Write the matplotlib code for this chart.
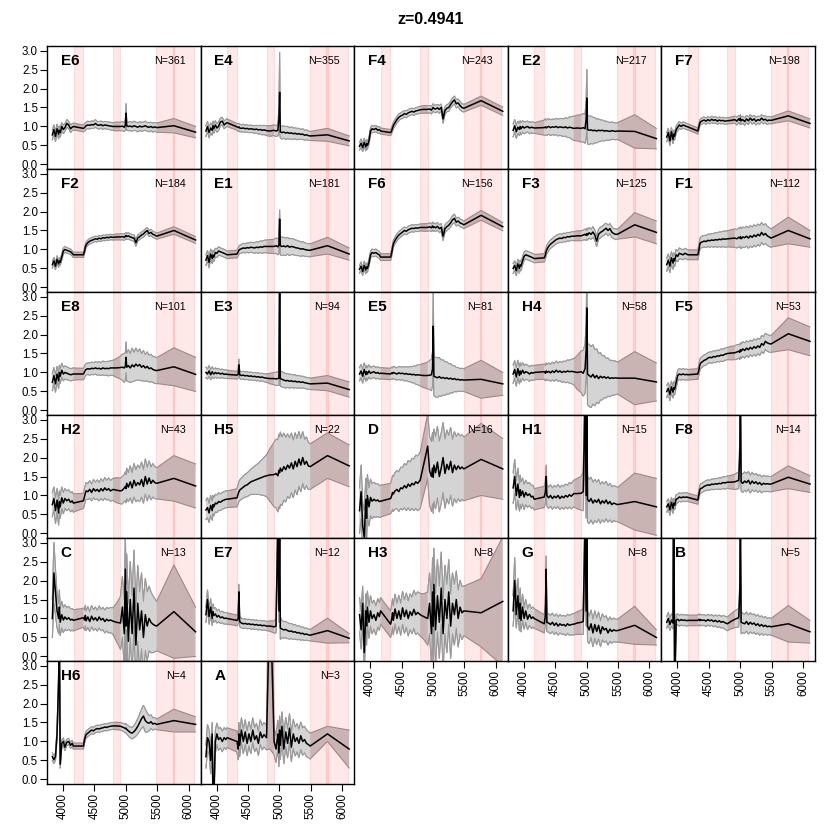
import numpy as np
import matplotlib
matplotlib.use("Agg")
import matplotlib.pyplot as plt

plt.rcParams['font.family'] = ['Liberation Sans', 'DejaVu Sans']

# wavelength grid (Angstrom). the masked bands only hold the join points
wave_blue = [3830, 3855, 3880, 3905, 3930, 3942, 3955, 3980, 4005, 4030, 4060, 4090, 4120, 4145, 4165]
wave_mid = [4325, 4343, 4355, 4367, 4395, 4425, 4455, 4485, 4515, 4545, 4575, 4605, 4635, 4665, 4695,
            4725, 4755, 4795]
wave_red = [4850, 4915, 4945, 4975, 4992, 5003, 5014, 5040, 5070, 5100, 5130, 5160, 5190, 5220, 5250,
            5280, 5310, 5340, 5370, 5400, 5430, 5460, 5490]
wave_far = [5765, 6110]

# masked (shaded) wavelength bands
bands = [(4167, 4322), (4796, 4912), (5488, 5767), (5743, 6085)]

names = ["E6", "E4", "F4", "E2", "F7",
         "F2", "E1", "F6", "F3", "F1",
         "E8", "E3", "E5", "H4", "F5",
         "H2", "H5", "D", "H1", "F8",
         "C", "E7", "H3", "G", "B",
         "H6", "A"]
n_spec = [361, 355, 243, 217, 198, 184, 181, 156, 125, 112, 101, 94, 81, 58, 53,
          43, 22, 16, 15, 14, 13, 12, 8, 8, 5, 4, 3]

# normalised flux and 1-sigma spread, both x100
flux_E6 = [78, 92, 74, 94, 80, 90, 84, 100, 92, 97, 108, 104, 94, 98, 100,
           95, 97, 100, 102, 104, 103, 105, 104, 108, 104, 103, 105, 102, 104, 103, 102, 101, 100,
           100, 100, 101, 98, 104, 135, 102, 100, 101, 99, 102, 100, 98, 101, 99, 100, 102, 99, 98, 100, 97, 99, 97,
           102, 85]
err_E6 = [13, 12, 13, 12, 12, 11, 12, 10, 11, 10, 10, 9, 10, 9, 9,
          9, 9, 10, 9, 10, 9, 10, 9, 10, 9, 10, 9, 10, 9, 10, 9, 10, 10,
          12, 11, 12, 11, 13, 25, 12, 11, 12, 11, 12, 11, 12, 11, 12, 11, 12, 11, 12, 11, 12, 11, 12,
          19, 15]

flux_E4 = [88, 100, 84, 96, 90, 102, 94, 104, 96, 100, 112, 114, 104, 108, 110,
           99, 97, 99, 96, 95, 96, 94, 95, 93, 94, 93, 92, 93, 91, 92, 90, 91, 89,
           88, 90, 88, 90, 120, 190, 86, 84, 85, 83, 84, 82, 83, 81, 82, 80, 81, 79, 80, 77, 78, 76, 75,
           78, 62]
err_E4 = [14, 13, 14, 13, 13, 12, 12, 11, 11, 11, 10, 10, 10, 10, 10,
          9, 10, 9, 10, 9, 10, 9, 10, 9, 10, 9, 10, 10, 11, 11, 12, 12, 13,
          14, 14, 14, 15, 30, 105, 16, 17, 16, 17, 16, 15, 16, 15, 14, 15, 14, 13, 14, 13, 13, 12, 12,
          17, 13]

flux_F4 = [48, 56, 44, 58, 46, 55, 50, 62, 88, 94, 92, 95, 90, 92, 88,
           84, 90, 96, 102, 110, 118, 124, 128, 130, 134, 132, 136, 138, 140, 138, 141, 142, 144,
           145, 145, 146, 143, 148, 150, 147, 146, 149, 145, 150, 120, 142, 148, 150, 158, 165, 170, 160, 162, 155, 150, 148,
           168, 140]
err_F4 = [10, 11, 10, 11, 10, 10, 10, 9, 9, 9, 8, 8, 8, 8, 8,
          8, 8, 9, 8, 9, 8, 9, 8, 9, 8, 9, 8, 9, 8, 9, 8, 9, 9,
          10, 10, 9, 10, 9, 10, 9, 10, 9, 10, 9, 11, 10, 9, 10, 9, 10, 10, 11, 10, 11, 10, 10,
          12, 11]

flux_E2 = [90, 102, 86, 98, 92, 100, 94, 100, 96, 98, 100, 96, 98, 97, 96,
           97, 99, 96, 98, 100, 97, 99, 98, 100, 97, 99, 98, 97, 99, 96, 98, 97, 95,
           96, 95, 97, 94, 120, 175, 92, 90, 91, 89, 90, 88, 90, 89, 90, 88, 89, 88, 87, 89, 88, 87, 88,
           87, 68]
err_E2 = [17, 16, 17, 16, 16, 15, 16, 15, 15, 15, 14, 15, 14, 15, 14,
          20, 21, 20, 21, 20, 21, 20, 21, 21, 22, 22, 23, 23, 24, 25, 27, 29, 32,
          34, 36, 37, 38, 50, 75, 38, 37, 36, 35, 33, 31, 30, 28, 27, 26, 25, 24, 23, 23, 22, 22, 22,
          44, 27]

flux_F7 = [72, 84, 62, 86, 66, 80, 74, 92, 98, 104, 100, 104, 102, 100, 99,
           88, 100, 108, 112, 115, 117, 114, 118, 115, 119, 116, 118, 114, 117, 115, 116, 114, 115,
           116, 118, 114, 120, 116, 122, 115, 118, 113, 120, 115, 122, 116, 120, 114, 118, 116, 122, 117, 119, 115, 117, 116,
           128, 108]
err_F7 = [12, 11, 12, 11, 11, 10, 10, 9, 9, 9, 8, 8, 8, 8, 8,
          8, 8, 8, 8, 8, 8, 8, 8, 8, 8, 8, 8, 8, 8, 8, 8, 8, 8,
          9, 9, 10, 9, 10, 9, 10, 9, 10, 9, 10, 9, 10, 9, 10, 9, 10, 9, 10, 9, 10, 9, 9,
          13, 12]

flux_F2 = [60, 70, 56, 74, 62, 70, 66, 80, 96, 100, 98, 96, 94, 90, 86,
           86, 96, 106, 112, 118, 122, 124, 126, 128, 127, 130, 128, 131, 130, 132, 131, 133, 132,
           133, 133, 134, 132, 135, 137, 134, 136, 133, 131, 130, 118, 130, 134, 138, 141, 146, 150, 142, 145, 140, 138, 135,
           150, 125]
err_F2 = [9, 9, 9, 9, 9, 8, 8, 8, 8, 8, 7, 7, 7, 7, 7,
          7, 7, 7, 7, 7, 7, 7, 7, 7, 7, 7, 7, 7, 7, 7, 7, 7, 7,
          8, 8, 8, 8, 8, 8, 8, 8, 8, 8, 8, 9, 8, 8, 8, 8, 8, 8, 8, 8, 8, 8, 8,
          10, 9]

flux_E1 = [72, 84, 66, 88, 76, 86, 80, 92, 90, 96, 94, 92, 90, 88, 86,
           88, 94, 98, 100, 102, 104, 103, 105, 104, 106, 105, 104, 106, 105, 107, 106, 108, 108,
           108, 108, 110, 107, 112, 180, 110, 108, 109, 107, 110, 106, 108, 107, 105, 104, 103, 101, 102, 100, 99, 98, 98,
           110, 88]
err_E1 = [14, 13, 14, 13, 13, 12, 12, 11, 11, 11, 10, 10, 10, 10, 10,
          10, 10, 11, 11, 11, 12, 12, 12, 13, 13, 13, 14, 14, 15, 15, 16, 16, 17,
          18, 19, 20, 21, 22, 24, 24, 24, 23, 23, 22, 22, 21, 21, 20, 20, 19, 19, 18, 18, 17, 17, 17,
          22, 16]

flux_F6 = [48, 56, 42, 58, 46, 54, 50, 64, 86, 92, 90, 92, 88, 86, 80,
           80, 92, 104, 114, 124, 132, 138, 142, 146, 150, 148, 152, 154, 156, 155, 157, 156, 158,
           158, 158, 160, 157, 162, 158, 160, 157, 161, 155, 158, 135, 155, 160, 164, 170, 178, 182, 172, 175, 170, 168, 165,
           190, 160]
err_F6 = [10, 11, 10, 11, 10, 10, 10, 9, 9, 9, 9, 9, 9, 9, 9,
          9, 9, 9, 9, 9, 9, 9, 9, 9, 9, 9, 9, 9, 9, 9, 9, 9, 9,
          10, 10, 10, 10, 10, 10, 10, 10, 10, 10, 10, 11, 10, 10, 10, 10, 11, 11, 10, 10, 10, 10, 10,
          13, 11]

flux_F3 = [50, 58, 44, 62, 50, 60, 56, 70, 82, 86, 84, 82, 80, 78, 76,
           78, 86, 94, 100, 108, 114, 118, 122, 126, 128, 130, 129, 132, 131, 134, 133, 135, 135,
           136, 136, 138, 140, 137, 142, 138, 144, 140, 146, 138, 122, 140, 145, 148, 152, 156, 150, 155, 146, 142, 140, 140,
           165, 145]
err_F3 = [13, 12, 13, 12, 12, 12, 12, 11, 11, 11, 11, 11, 11, 11, 11,
          11, 11, 11, 11, 11, 11, 11, 11, 11, 11, 11, 11, 11, 11, 11, 11, 11, 12,
          13, 13, 13, 14, 13, 14, 13, 14, 13, 14, 13, 14, 13, 14, 13, 14, 13, 14, 13, 14, 13, 14, 13,
          32, 30]

flux_F1 = [60, 72, 56, 78, 64, 76, 70, 86, 82, 90, 88, 86, 90, 88, 86,
           86, 100, 112, 118, 120, 122, 121, 124, 123, 125, 124, 126, 125, 127, 126, 128, 127, 128,
           129, 130, 128, 132, 130, 134, 128, 133, 131, 135, 130, 136, 132, 138, 134, 140, 136, 145, 138, 142, 136, 133, 130,
           150, 128]
err_F1 = [17, 16, 17, 16, 16, 15, 15, 14, 14, 14, 13, 13, 13, 13, 13,
          13, 13, 14, 14, 15, 15, 16, 16, 17, 17, 18, 18, 19, 19, 20, 20, 21, 21,
          23, 24, 24, 25, 25, 25, 26, 26, 26, 26, 27, 27, 27, 27, 27, 27, 27, 26, 26, 26, 25, 25, 24,
          35, 22]

flux_E8 = [74, 92, 70, 96, 78, 100, 90, 106, 96, 100, 98, 96, 94, 95, 96,
           96, 102, 106, 108, 110, 109, 111, 110, 112, 110, 111, 109, 112, 110, 111, 110, 112, 112,
           112, 113, 114, 112, 116, 140, 114, 118, 112, 120, 115, 122, 117, 121, 114, 118, 112, 116, 110, 112, 108, 106, 105,
           115, 95]
err_E8 = [22, 21, 22, 20, 20, 19, 19, 18, 18, 17, 17, 16, 16, 16, 16,
          15, 15, 15, 15, 15, 16, 16, 16, 16, 17, 17, 17, 18, 18, 18, 19, 19, 20,
          25, 30, 34, 38, 36, 40, 36, 42, 38, 44, 38, 42, 37, 41, 36, 40, 35, 38, 35, 36, 34, 35, 34,
          50, 45]

flux_E3 = [100, 96, 104, 94, 102, 98, 96, 100, 97, 99, 96, 98, 95, 96, 95,
           93, 96, 120, 94, 92, 93, 91, 92, 90, 91, 89, 90, 88, 89, 87, 88, 86, 85,
           84, 84, 83, 84, 85, 350, 84, 82, 80, 78, 79, 77, 78, 76, 77, 75, 76, 74, 75, 73, 72, 71, 70,
           72, 55]
err_E3 = [14, 13, 14, 13, 13, 13, 12, 12, 12, 12, 11, 11, 11, 11, 11,
          10, 10, 15, 10, 10, 10, 10, 10, 10, 10, 10, 10, 10, 10, 10, 10, 10, 11,
          14, 16, 17, 18, 19, 150, 20, 20, 19, 19, 18, 18, 17, 17, 17, 16, 16, 16, 15, 15, 15, 15, 15,
          20, 20]

flux_E5 = [96, 104, 90, 108, 94, 102, 96, 104, 98, 100, 102, 98, 100, 97, 98,
           96, 99, 97, 100, 98, 96, 99, 97, 98, 96, 97, 95, 96, 94, 95, 93, 94, 93,
           92, 92, 93, 94, 110, 222, 90, 88, 86, 89, 85, 87, 84, 86, 83, 85, 82, 84, 81, 82, 80, 81, 80,
           82, 70]
err_E5 = [18, 17, 18, 17, 17, 16, 16, 16, 15, 15, 15, 15, 15, 15, 15,
          15, 15, 15, 16, 16, 16, 17, 17, 17, 18, 18, 19, 20, 21, 22, 24, 26, 28,
          32, 35, 38, 42, 45, 90, 50, 52, 52, 50, 48, 46, 44, 42, 40, 38, 36, 34, 32, 31, 30, 30, 30,
          50, 30]

flux_H4 = [96, 108, 88, 110, 92, 104, 96, 106, 98, 102, 100, 96, 100, 98, 100,
           102, 98, 104, 100, 103, 99, 104, 100, 106, 101, 104, 100, 103, 101, 104, 102, 103, 102,
           100, 102, 98, 110, 160, 270, 96, 92, 88, 95, 86, 92, 84, 90, 86, 89, 85, 88, 84, 86, 85, 86, 85,
           85, 75]
err_H4 = [24, 23, 24, 22, 22, 21, 21, 20, 20, 20, 19, 19, 19, 19, 19,
          20, 20, 21, 21, 22, 22, 23, 23, 24, 24, 25, 26, 27, 28, 29, 30, 32, 34,
          45, 55, 60, 65, 70, 100, 80, 82, 80, 78, 74, 70, 66, 62, 58, 55, 52, 50, 48, 46, 45, 44, 42,
          70, 50]

flux_F5 = [50, 58, 42, 62, 48, 60, 56, 74, 92, 96, 94, 96, 94, 95, 94,
           96, 108, 118, 124, 128, 132, 134, 138, 140, 139, 142, 141, 144, 143, 146, 145, 148, 150,
           151, 152, 154, 156, 153, 160, 156, 162, 158, 164, 160, 166, 162, 168, 164, 170, 166, 176, 172, 182, 178, 176, 175,
           202, 182]
err_F5 = [16, 15, 16, 15, 15, 15, 15, 14, 14, 14, 14, 14, 14, 14, 14,
          14, 14, 14, 14, 14, 14, 14, 14, 14, 15, 15, 15, 15, 15, 16, 16, 16, 16,
          18, 18, 19, 18, 19, 18, 19, 19, 20, 19, 20, 19, 20, 20, 21, 20, 21, 21, 22, 21, 22, 22, 22,
          42, 38]

flux_H2 = [76, 92, 60, 88, 54, 84, 70, 94, 80, 92, 86, 90, 82, 86, 80,
           86, 98, 106, 112, 110, 116, 108, 118, 112, 116, 110, 118, 112, 120, 114, 118, 112, 116,
           114, 112, 114, 120, 124, 118, 132, 122, 136, 120, 140, 126, 134, 128, 142, 124, 150, 130, 146, 132, 140, 134, 132,
           145, 125]
err_H2 = [32, 30, 34, 30, 32, 28, 30, 28, 28, 26, 26, 25, 25, 24, 24,
          20, 22, 20, 22, 21, 23, 22, 24, 23, 25, 24, 26, 25, 27, 26, 28, 27, 29,
          33, 34, 36, 35, 38, 37, 40, 38, 42, 40, 44, 42, 46, 44, 46, 44, 46, 44, 45, 43, 44, 42, 41,
          60, 58]

flux_H5 = [62, 68, 54, 74, 60, 76, 70, 80, 78, 84, 82, 86, 88, 90, 90,
           94, 104, 110, 114, 118, 122, 126, 128, 132, 136, 138, 140, 142, 144, 146, 148, 150, 152,
           154, 155, 158, 152, 166, 160, 172, 164, 176, 168, 180, 172, 186, 170, 190, 176, 196, 180, 200, 182, 190, 178, 176,
           205, 178]
err_H5 = [25, 26, 25, 26, 25, 24, 24, 23, 23, 23, 22, 22, 22, 22, 22,
          24, 25, 26, 27, 28, 29, 30, 31, 32, 33, 35, 37, 39, 41, 44, 47, 50, 55,
          70, 85, 90, 95, 95, 95, 95, 90, 88, 85, 82, 80, 78, 76, 75, 74, 72, 70, 68, 66, 64, 62, 60,
          60, 55]

flux_D = [60, 110, 20, -10, 90, 40, 100, 70, 95, 85, 90, 86, 88, 84, 85,
          92, 100, 108, 104, 112, 116, 110, 120, 118, 126, 120, 130, 124, 132, 128, 136, 132, 140,
          181, 230, 165, 150, 172, 148, 180, 160, 188, 150, 172, 200, 158, 182, 168, 190, 160, 180, 168, 178, 170, 175, 170,
          195, 170]
err_D = [60, 70, 60, 70, 55, 60, 55, 50, 48, 46, 45, 44, 43, 42, 42,
         40, 42, 44, 46, 48, 50, 52, 54, 56, 58, 60, 62, 64, 66, 68, 70, 72, 74,
         80, 85, 90, 92, 94, 95, 95, 95, 94, 93, 92, 92, 91, 90, 90, 89, 88, 88, 87, 86, 86, 85, 84,
         95, 80]

flux_H1 = [120, 150, 100, 130, 95, 115, 100, 112, 96, 108, 100, 104, 96, 98, 90,
           96, 110, 150, 100, 94, 100, 92, 98, 94, 100, 92, 98, 94, 100, 96, 102, 98, 105,
           105, 106, 110, 350, 100, 350, 90, 84, 92, 80, 88, 82, 90, 78, 86, 80, 88, 78, 84, 76, 80, 78, 76,
           84, 70]
err_H1 = [40, 45, 38, 42, 36, 38, 35, 34, 33, 32, 31, 30, 30, 29, 28,
          28, 28, 30, 28, 28, 28, 28, 28, 28, 29, 29, 29, 30, 30, 31, 32, 33, 35,
          40, 45, 50, 100, 60, 100, 60, 58, 56, 55, 54, 53, 52, 51, 50, 50, 49, 48, 48, 47, 46, 46, 45,
          75, 75]

flux_F8 = [70, 78, 62, 82, 66, 80, 74, 90, 92, 96, 94, 96, 95, 96, 95,
           88, 104, 114, 118, 120, 124, 126, 128, 127, 130, 129, 131, 130, 132, 131, 134, 133, 135,
           135, 136, 138, 140, 200, 350, 136, 132, 138, 134, 140, 130, 138, 132, 136, 130, 134, 128, 132, 130, 131, 130, 130,
           148, 130]
err_F8 = [14, 13, 14, 13, 13, 12, 12, 12, 11, 11, 11, 11, 11, 11, 11,
          11, 11, 12, 12, 12, 12, 13, 13, 13, 13, 14, 14, 14, 15, 15, 15, 16, 16,
          18, 20, 21, 22, 40, 100, 24, 24, 24, 24, 23, 23, 23, 22, 22, 22, 21, 21, 21, 20, 20, 20, 20,
          30, 22]

flux_C = [100, 220, 170, 120, 100, 130, 90, 110, 96, 104, 98, 102, 96, 98, 95,
          102, 96, 108, 94, 104, 92, 106, 96, 102, 94, 104, 96, 100, 92, 98, 94, 96, 93,
          90, 88, 130, 60, 230, 80, 170, 40, 150, 60, 180, 30, 140, 70, 120, 50, 110, 80, 100, 90, 85, 82, 80,
          118, 65]
err_C = [50, 80, 60, 45, 40, 45, 35, 35, 33, 32, 30, 30, 29, 28, 28,
         25, 26, 27, 26, 27, 26, 28, 27, 28, 27, 29, 28, 29, 30, 31, 32, 33, 35,
         50, 70, 80, 90, 95, 110, 100, 100, 100, 100, 100, 100, 100, 100, 100, 95, 95, 90, 85, 80, 75, 70, 65,
         123, 65]

flux_E7 = [110, 150, 105, 130, 100, 118, 108, 112, 104, 108, 102, 104, 100, 101, 100,
           95, 100, 170, 92, 88, 86, 87, 85, 86, 84, 85, 83, 84, 82, 83, 81, 82, 80,
           80, 78, 80, 350, 120, 350, 75, 72, 70, 71, 68, 66, 67, 64, 65, 62, 63, 60, 61, 58, 59, 57, 56,
           68, 48]
err_E7 = [20, 25, 20, 22, 18, 20, 18, 17, 16, 16, 15, 15, 15, 15, 15,
          14, 14, 20, 13, 13, 12, 12, 12, 12, 12, 12, 12, 12, 12, 12, 12, 12, 12,
          14, 16, 18, 60, 30, 100, 30, 22, 22, 21, 21, 20, 20, 19, 19, 18, 18, 17, 17, 16, 16, 15, 15,
          33, 12]

flux_H3 = [110, 70, 140, 10, 120, 80, 130, 90, 120, 100, 110, 95, 115, 105, 120,
           85, 100, 115, 95, 125, 100, 120, 98, 128, 105, 122, 100, 118, 108, 124, 110, 116, 110,
           105, 100, 140, 60, 170, 80, 190, 70, 160, 90, 180, 60, 150, 100, 170, 80, 140, 110, 150, 100, 130, 115, 120,
           115, 145]
err_H3 = [45, 50, 45, 55, 45, 50, 42, 42, 40, 40, 38, 38, 37, 36, 35,
          35, 36, 37, 38, 39, 40, 41, 42, 43, 44, 45, 46, 47, 48, 50, 52, 54, 56,
          60, 70, 80, 85, 90, 95, 95, 95, 95, 95, 95, 90, 90, 90, 85, 85, 80, 80, 75, 75, 70, 70, 65,
          90, 170]

flux_G = [120, 200, 110, 160, 100, 140, 95, 130, 100, 120, 98, 110, 100, 104, 100,
          86, 110, 230, 90, 88, 84, 90, 82, 88, 80, 86, 82, 84, 80, 86, 82, 84, 85,
          88, 90, 92, 350, 120, 350, 80, 70, 86, 62, 84, 66, 82, 60, 78, 70, 74, 62, 72, 66, 70, 68, 68,
          82, 50]
err_G = [40, 60, 35, 45, 32, 40, 30, 34, 28, 30, 27, 28, 26, 26, 26,
         24, 26, 35, 24, 24, 24, 24, 24, 24, 24, 24, 24, 24, 25, 25, 26, 27, 28,
         30, 32, 34, 80, 40, 120, 40, 36, 36, 36, 36, 35, 35, 34, 34, 33, 33, 32, 32, 31, 31, 30, 30,
         50, 20]

flux_B = [90, 100, 84, 96, 88, 600, -100, 95, 98, 94, 97, 95, 96, 94, 95,
          95, 98, 94, 97, 95, 96, 93, 97, 94, 96, 92, 95, 91, 94, 90, 92, 89, 86,
          92, 98, 100, 102, 160, 330, 90, 88, 86, 92, 84, 90, 85, 88, 82, 86, 80, 84, 79, 82, 78, 80, 78,
          86, 65]
err_B = [15, 16, 15, 16, 15, 20, 20, 15, 14, 14, 14, 14, 14, 14, 14,
         14, 14, 14, 14, 14, 14, 14, 14, 14, 14, 14, 14, 15, 15, 15, 16, 17, 18,
         20, 22, 23, 24, 30, 60, 30, 25, 25, 25, 25, 25, 25, 24, 24, 24, 24, 23, 23, 23, 22, 22, 22,
         48, 30]

flux_H6 = [60, 52, 60, 120, 260, 400, 40, 95, 100, 85, 98, 100, 90, 95, 88,
           88, 105, 112, 118, 122, 126, 130, 128, 132, 134, 133, 135, 136, 138, 137, 139, 140, 141,
           141, 140, 138, 136, 134, 135, 132, 128, 124, 122, 126, 132, 140, 150, 160, 167, 155, 150, 148, 152, 146, 148, 145,
           155, 145]
err_H6 = [10, 10, 10, 12, 20, 30, 10, 9, 9, 9, 8, 8, 8, 8, 8,
          8, 8, 9, 9, 9, 9, 9, 9, 9, 9, 9, 9, 9, 9, 9, 9, 9, 9,
          10, 10, 10, 11, 11, 12, 12, 13, 14, 15, 16, 18, 20, 22, 25, 28, 30, 25, 20, 18, 16, 15, 14,
          30, 20]

flux_A = [60, 110, 100, 50, 120, -60, -40, 100, 120, 105, 110, 100, 110, 105, 110,
          100, 80, 120, 90, 130, 100, 125, 95, 120, 100, 130, 105, 115, 95, 125, 110, 118, 110,
          500, 100, 80, 120, 70, 130, 90, 140, 80, 125, 95, 135, 85, 120, 100, 110, 95, 115, 100, 105, 95, 92, 88,
          120, 80]
err_A = [30, 35, 30, 35, 30, 40, 40, 30, 28, 28, 27, 27, 26, 26, 26,
         28, 28, 30, 30, 32, 32, 32, 32, 32, 32, 32, 32, 32, 32, 32, 32, 32, 32,
         420, 35, 35, 36, 36, 37, 37, 38, 38, 38, 38, 38, 38, 38, 38, 37, 37, 36, 36, 35, 35, 34, 34,
         20, 50]

fluxes = [flux_E6, flux_E4, flux_F4, flux_E2, flux_F7,
          flux_F2, flux_E1, flux_F6, flux_F3, flux_F1,
          flux_E8, flux_E3, flux_E5, flux_H4, flux_F5,
          flux_H2, flux_H5, flux_D, flux_H1, flux_F8,
          flux_C, flux_E7, flux_H3, flux_G, flux_B,
          flux_H6, flux_A]
errs = [err_E6, err_E4, err_F4, err_E2, err_F7,
        err_F2, err_E1, err_F6, err_F3, err_F1,
        err_E8, err_E3, err_E5, err_H4, err_F5,
        err_H2, err_H5, err_D, err_H1, err_F8,
        err_C, err_E7, err_H3, err_G, err_B,
        err_H6, err_A]

wave = np.array(wave_blue + wave_mid + wave_red + wave_far, dtype=float)
n1 = len(wave_blue)
n2 = n1 + len(wave_mid)
# grey (unmasked) stretches; 4850 sits inside a band so it is skipped
segments = [slice(0, n1), slice(n1, n2), slice(n2 + 1, n2 + len(wave_red))]

for nm, f, e in zip(names, fluxes, errs):
    if len(f) != len(wave) or len(e) != len(wave):
        raise ValueError(f"{nm}: {len(f)} / {len(e)} points, need {len(wave)}")

W, H = 830, 830
left, top = 47, 46
pw, ph = 153.6, 123.0

fig = plt.figure(figsize=(W / 100, H / 100), dpi=100)

for k, (name, n, f, e) in enumerate(zip(names, n_spec, fluxes, errs)):
    row, col = k // 5, k % 5
    x0 = (left + col * pw) / W
    y0 = 1 - (top + (row + 1) * ph) / H
    ax = fig.add_axes([x0, y0, pw / W, ph / H])

    f = np.array(f) / 100.0
    e = np.array(e) / 100.0
    lo, hi = f - e, f + e

    for a, b in bands:
        ax.axvspan(a, b, facecolor=(1, 0, 0, 0.09), edgecolor=(1, 0.3, 0.3, 0.15),
                   lw=0.8, zorder=0)

    # spread through the masked regions (brownish)
    ax.fill_between(wave, lo, hi, facecolor="#c9b3b3", lw=0, zorder=1)
    ax.plot(wave, lo, color="#a38686", lw=0.8, zorder=1)
    ax.plot(wave, hi, color="#a38686", lw=0.8, zorder=1)

    # spread where there is data (grey)
    for s in segments:
        ax.fill_between(wave[s], lo[s], hi[s], facecolor="#d4d4d4", lw=0, zorder=2)
        ax.plot(wave[s], lo[s], color="#9a9a9a", lw=0.8, zorder=2)
        ax.plot(wave[s], hi[s], color="#9a9a9a", lw=0.8, zorder=2)

    ax.plot(wave, f, color="black", lw=1.1, zorder=3)

    ax.set_xlim(3745, 6190)
    ax.set_ylim(-0.12, 3.12)

    ax.text(0.09, 0.875, name, transform=ax.transAxes, fontsize=11, fontweight="bold",
            ha="left", va="center")
    ax.text(0.905, 0.875, f"N={n}", transform=ax.transAxes, fontsize=7.7,
            ha="right", va="center")

    for sp in ax.spines.values():
        sp.set_linewidth(1.0)

    if col == 0:
        ax.set_yticks(np.arange(0, 3.01, 0.5))
        ax.set_yticklabels([f"{v:.1f}" for v in np.arange(0, 3.01, 0.5)])
        ax.tick_params(axis="y", length=5, width=0.8, labelsize=8.3, pad=1.5)
    else:
        ax.set_yticks([])

    last_in_col = (row == 5) or (row == 4 and col >= 2)
    if last_in_col:
        xt = [4000, 4500, 5000, 5500, 6000]
        ax.set_xticks(xt)
        ax.set_xticklabels([str(v) for v in xt], rotation=90)
        ax.tick_params(axis="x", length=5, width=0.8, labelsize=8.3, pad=1.5)
    else:
        ax.set_xticks([])

fig.text((left + 2.5 * pw) / W, 1 - 20 / H, "z=0.4941", ha="center", va="center",
         fontsize=11.5, fontweight="bold")

fig.savefig("out.png", dpi=100)
